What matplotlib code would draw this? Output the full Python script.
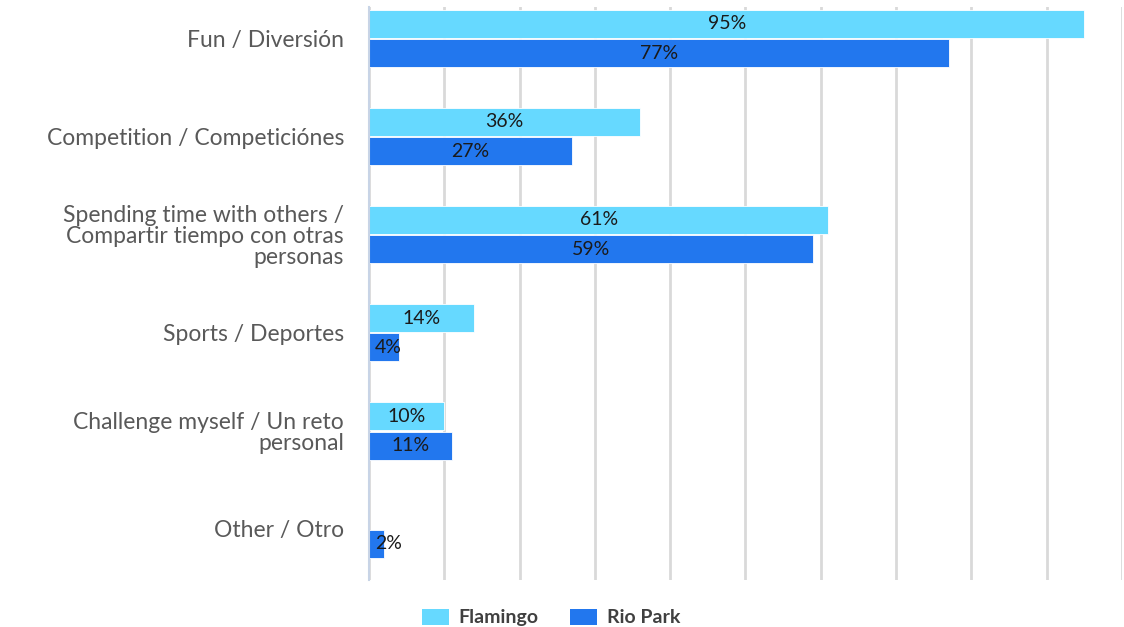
import matplotlib
matplotlib.use("Agg")
import matplotlib.pyplot as plt
from matplotlib.patches import Patch
import numpy as np

plt.rcParams['font.family'] = ['Lato', 'DejaVu Sans']

categories = [
    "Fun / Diversión",
    "Competition / Competiciónes",
    "Spending time with others /\nCompartir tiempo con otras\npersonas",
    "Sports / Deportes",
    "Challenge myself / Un reto\npersonal",
    "Other / Otro",
]
series_names = ["Flamingo", "Rio Park"]
flamingo = [95, 36, 61, 14, 10, None]
rio_park = [77, 27, 59, 4, 11, 2]

colors = ["#66D9FF", "#2277EE"]

fig = plt.figure(figsize=(11.24, 6.27), dpi=100)
ax = fig.add_axes([0.3283, 0.075, 0.6699, 0.9138])

y = np.arange(len(categories))
bar_h = 0.285
offset = 0.15

for vals, off, col in [(flamingo, -offset, colors[0]), (rio_park, offset, colors[1])]:
    for yi, v in zip(y, vals):
        if v is None:
            continue
        ax.barh(yi + off, v, height=bar_h, color=col, edgecolor="white",
                linewidth=0.6, zorder=3)
        xpos = max(v / 2, 2.6)
        ax.text(xpos, yi + off, f"{v}%", ha="center", va="center",
                fontsize=14, color="#1a1a1a", zorder=4)

ax.set_xlim(0, 100)
ax.set_ylim(5.52, -0.32)
ax.set_xticks(np.arange(0, 101, 10))
ax.set_xticklabels([])
ax.tick_params(axis="x", length=0)
ax.grid(axis="x", color="#d9d9d9", linewidth=2, zorder=0)

ax.set_yticks(y)
ax.set_yticklabels(categories, fontsize=16.5, color="#595959", linespacing=1.0)
ax.tick_params(axis="y", length=0, pad=18)

for side in ["top", "right", "bottom"]:
    ax.spines[side].set_visible(False)
ax.spines["left"].set_color("#c8d4e6")
ax.spines["left"].set_linewidth(1.5)
ax.spines["left"].set_zorder(5)

handles = [Patch(facecolor=c, edgecolor="none", label=n) for c, n in zip(colors, series_names)]
leg = fig.legend(handles=handles, loc="center", bbox_to_anchor=(0.49, 0.015),
                 ncol=2, frameon=False, handlelength=1.4, handleheight=0.9,
                 columnspacing=1.6, handletextpad=0.5,
                 prop={"weight": "bold", "size": 14})
for t in leg.get_texts():
    t.set_color("#404040")

fig.savefig("out.png", dpi=100, facecolor="white")
